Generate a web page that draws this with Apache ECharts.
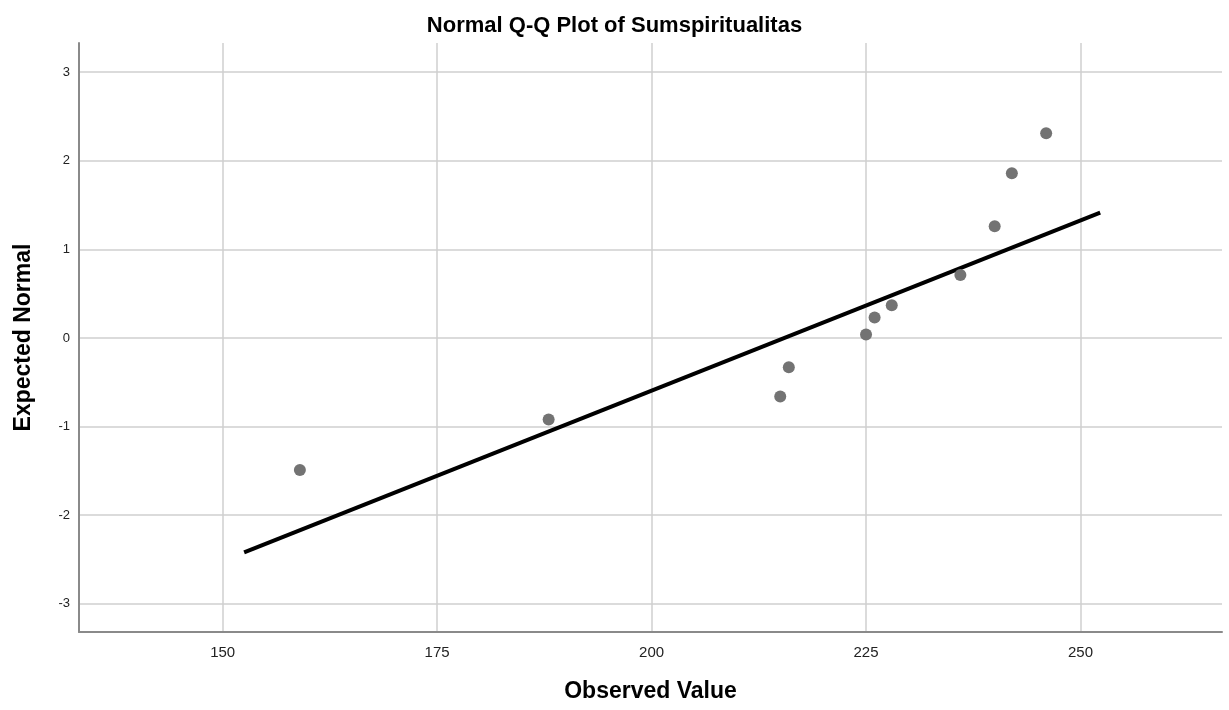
<!DOCTYPE html>
<html>
<head>
<meta charset="utf-8">
<script src="https://cdn.jsdelivr.net/npm/echarts@6/dist/echarts.min.js"></script>
<style>
html,body{margin:0;padding:0;background:#fff;}
#chart{width:1229px;height:710px;}
</style>
</head>
<body>
<div id="chart"></div>
<script>
const observed = [159, 188, 215, 216, 225, 226, 228, 236, 240, 242, 246];
const expected = [-1.49, -0.92, -0.66, -0.33, 0.04, 0.23, 0.37, 0.71, 1.26, 1.86, 2.31];
// Reference line end points
const lineX = [152.5, 252.3];
const lineY = [-2.42, 1.415];
const xTicks = [150, 175, 200, 225, 250];
const yTicks = [-3, -2, -1, 0, 1, 2, 3];

const points = observed.map((v, i) => [v, expected[i]]);
const linePts = lineX.map((v, i) => [v, lineY[i]]);

const font = '"Liberation Sans", Arial, sans-serif';
const narrow = '"Liberation Sans Narrow", "Arial Narrow", "Liberation Sans", Arial, sans-serif';
const chart = echarts.init(document.getElementById('chart'), null, {renderer: 'canvas'});
chart.setOption({
  backgroundColor: '#ffffff',
  animation: false,
  title: {
    text: 'Normal Q-Q Plot of Sumspiritualitas',
    left: 'center',
    top: 10,
    textStyle: {fontFamily: font, fontSize: 22, fontWeight: 'bold', color: '#000'}
  },
  grid: {left: 79, right: 7, top: 43, bottom: 78, containLabel: false},
  xAxis: {
    type: 'value',
    min: 133.25,
    max: 266.5,
    name: 'Observed Value',
    nameLocation: 'middle',
    nameGap: 48,
    nameTextStyle: {fontFamily: font, fontSize: 23, fontWeight: 'bold', color: '#000'},
    axisLine: {show: true, onZero: false, lineStyle: {color: '#8a8a8a', width: 2}},
    axisTick: {show: false, customValues: xTicks},
    axisLabel: {customValues: xTicks, fontFamily: narrow, fontSize: 15, color: '#222', margin: 13},
    splitLine: {show: true, customValues: xTicks, lineStyle: {color: '#cfcfcf', width: 1.5}}
  },
  yAxis: {
    type: 'value',
    min: -3.32,
    max: 3.33,
    name: 'Expected Normal',
    nameLocation: 'middle',
    nameGap: 44,
    nameRotate: 90,
    nameTextStyle: {fontFamily: font, fontSize: 23, fontWeight: 'bold', color: '#000'},
    axisLine: {show: true, onZero: false, lineStyle: {color: '#8a8a8a', width: 2}},
    axisTick: {show: false, customValues: yTicks},
    axisLabel: {customValues: yTicks, fontFamily: font, fontSize: 13, color: '#222', margin: 9},
    splitLine: {show: true, customValues: yTicks, lineStyle: {color: '#cfcfcf', width: 1.5}}
  },
  series: [
    {
      type: 'line',
      data: linePts,
      symbol: 'none',
      lineStyle: {color: '#000', width: 4},
      z: 3
    },
    {
      type: 'scatter',
      data: points,
      symbol: 'circle',
      symbolSize: 12,
      itemStyle: {color: '#737373', opacity: 1},
      z: 4
    }
  ]
});
</script>
</body>
</html>
